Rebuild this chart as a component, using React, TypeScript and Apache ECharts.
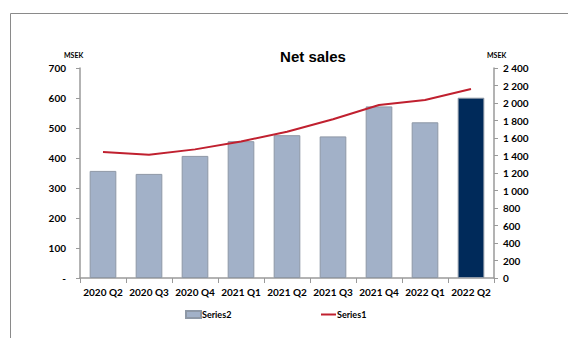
import React, { useEffect, useRef } from "react";
import * as echarts from "echarts";

const categories = ["2020 Q2", "2020 Q3", "2020 Q4", "2021 Q1", "2021 Q2", "2021 Q3", "2021 Q4", "2022 Q1", "2022 Q2"];
const series2 = [357, 347, 407, 456, 476, 472, 572, 519, 601];
const series1 = [1440, 1408, 1470, 1560, 1672, 1815, 1977, 2034, 2160];

const FONT = "Lato, 'Open Sans', sans-serif";

export default function App() {
  const ref = useRef<HTMLDivElement>(null);
  useEffect(() => {
    const chart = echarts.init(ref.current!, null, { renderer: "svg" });
    const axisColor = "#9a9a9a";
    const legendText = { fontFamily: FONT, fontSize: 9, fontWeight: "bold", color: "#000", padding: [0, 0, 0, -4] };
    chart.setOption({
      animation: false,
      title: {
        text: "Net sales",
        left: 308,
        top: 44,
        textAlign: "center",
        textStyle: { fontFamily: "Arial, 'Liberation Sans', sans-serif", fontSize: 15, fontWeight: "bold", color: "#000" },
      },
      graphic: [
        { type: "rect", shape: { x: 10.5, y: 13.5, width: 600, height: 400 }, style: { fill: "none", stroke: "#8a8a8a", lineWidth: 1 } },
        { type: "text", x: 64, y: 51, style: { text: "MSEK", fontSize: 7, fontWeight: "bold", fontFamily: FONT, fill: "#000" } },
        { type: "text", x: 487, y: 51, style: { text: "MSEK", fontSize: 7, fontWeight: "bold", fontFamily: FONT, fill: "#000" } },
      ],
      legend: [
        {
          left: 180,
          top: 305,
          itemWidth: 15,
          itemHeight: 7,
          textStyle: legendText,
          data: [{ name: "Series2", icon: "rect" }],
        },
        {
          left: 316,
          top: 305,
          itemWidth: 15,
          itemHeight: 2,
          textStyle: legendText,
          data: [{ name: "Series1", icon: "rect", itemStyle: { color: "#c0202f" } }],
        },
      ],
      grid: { left: 80, right: 74, top: 68, bottom: 60 },
      xAxis: {
        type: "category",
        data: categories,
        axisLine: { lineStyle: { color: axisColor, width: 1.5 } },
        axisTick: { show: true, length: 5, lineStyle: { color: axisColor } },
        axisLabel: { interval: 0, fontFamily: FONT, fontSize: 10, fontWeight: "bold", color: "#000", margin: 9 },
      },
      yAxis: [
        {
          type: "value",
          min: 0,
          max: 700,
          interval: 100,
          position: "left",
          axisLine: { show: true, lineStyle: { color: axisColor, width: 1.5 } },
          axisTick: { show: true, length: 4, lineStyle: { color: axisColor } },
          splitLine: { show: false },
          axisLabel: {
            fontFamily: FONT,
            fontSize: 10,
            fontWeight: "bold",
            color: "#000",
            margin: 14,
            formatter: (v: number) => (v === 0 ? "-" : String(v)),
          },
        },
        {
          type: "value",
          min: 0,
          max: 2400,
          interval: 200,
          position: "right",
          axisLine: { show: true, lineStyle: { color: axisColor, width: 1.5 } },
          axisTick: { show: true, length: 4, lineStyle: { color: axisColor } },
          splitLine: { show: false },
          axisLabel: {
            fontFamily: FONT,
            fontSize: 10,
            fontWeight: "bold",
            color: "#000",
            margin: 9,
            formatter: (v: number) => String(v).replace(/\B(?=(\d{3})+(?!\d))/g, " "),
          },
        },
      ],
      series: [
        {
          name: "Series2",
          type: "bar",
          yAxisIndex: 0,
          barWidth: "58%",
          itemStyle: { color: "#a2b1c8", borderColor: "#8e98a6", borderWidth: 1 },
          data: series2.map((v, i) =>
            i === series2.length - 1 ? { value: v, itemStyle: { color: "#002a5a", borderColor: "#8e98a6" } } : v
          ),
        },
        {
          name: "Series1",
          type: "line",
          yAxisIndex: 1,
          symbol: "none",
          lineStyle: { color: "#c0202f", width: 2 },
          itemStyle: { color: "#c0202f" },
          data: series1,
        },
      ],
    });
    return () => chart.dispose();
  }, []);
  return <div ref={ref} style={{ width: 568, height: 338, position: "absolute", left: 0, top: 0 }} />;
}
